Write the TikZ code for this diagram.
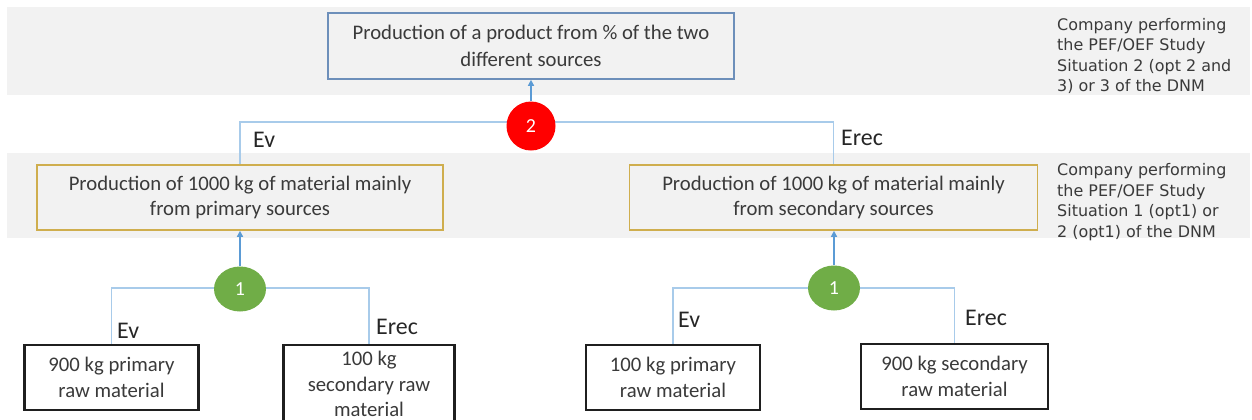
\documentclass[tikz,border=0pt]{standalone}
\usepackage{fontspec}
\setmainfont{Carlito}
\newfontfamily\notefont{DejaVu Sans}
\usetikzlibrary{arrows.meta,shapes.geometric}
\definecolor{bandgray}{HTML}{F2F2F2}
\definecolor{topblue}{HTML}{6D8FBA}
\definecolor{gold}{HTML}{CFAE4E}
\definecolor{lineblue}{HTML}{A8CBEA}
\definecolor{arrblue}{HTML}{5B9BD5}
\definecolor{txtgray}{HTML}{3A3A3A}
\definecolor{redc}{HTML}{FF0000}
\definecolor{greenc}{HTML}{70AD47}
\tikzset{
  band/.style={fill=bandgray,draw=none},
  mainbox/.style={draw=topblue,line width=1.6bp,fill=bandgray,align=center,inner sep=0pt,
    minimum width=406bp,minimum height=66bp,text=txtgray,
    font={\fontsize{20.8}{26.5}\selectfont}},
  goldbox/.style={draw=gold,line width=1.6bp,fill=bandgray,align=center,inner sep=0pt,
    minimum width=406bp,minimum height=65bp,text=txtgray,
    font={\fontsize{20.8}{25.5}\selectfont}},
  rawbox/.style={draw=black!88,line width=2.4bp,fill=white,align=center,inner sep=0pt,
    minimum height=65bp,text=txtgray,
    font={\fontsize{20.8}{25.5}\selectfont}},
  note/.style={align=left,inner sep=0pt,text=txtgray,
    font={\notefont\fontsize{16}{20.5}\selectfont}},
  conn/.style={draw=lineblue,line width=1.2bp},
  arr/.style={draw=arrblue,line width=1.4bp,-{Triangle[length=6bp,width=6bp]}},
  elabel/.style={inner sep=0pt,anchor=west,text=black!85,font={\fontsize{24}{28}\selectfont}},
  redcirc/.style={circle,fill=redc,draw=none,minimum size=49bp,inner sep=0pt,text=white,
    font={\fontsize{20}{24}\selectfont}},
  greenell/.style={ellipse,fill=greenc,draw=none,minimum width=52bp,minimum height=45bp,
    inner sep=0pt,text=white,font={\fontsize{20}{24}\selectfont}}
}
\begin{document}
\begin{tikzpicture}[x=1bp,y=-1bp]
\useasboundingbox (0,0) rectangle (1252,419);
% bands
\fill[band] (7,7) rectangle (1250,95);
\fill[band] (7,153) rectangle (1250,238);
% main nodes
\node[mainbox] (top) at (531,46) {Production of a product from \% of the two\\different sources};
\node[goldbox] (L) at (240,197.5) {Production of 1000 kg of material mainly\\from primary sources};
\node[goldbox,minimum width=408bp] (R) at (833.5,197.5) {Production of 1000 kg of material mainly\\from secondary sources};
% side notes
\node[note,anchor=west] (n1) at (1057,56) {Company performing\\the PEF/OEF Study\\Situation 2 (opt 2 and\\3) or 3 of the DNM};
\node[note,anchor=west] (n2) at (1057,202) {Company performing\\the PEF/OEF Study\\Situation 1 (opt1) or\\2 (opt1) of the DNM};
% raw material boxes
\node[rawbox,minimum width=174bp] (B1) at (111.5,377.5) {900 kg primary\\raw material};
\node[rawbox,minimum width=171bp,minimum height=78bp] (B2) at (369,384) {100 kg\\secondary raw\\material};
\node[rawbox,minimum width=174bp] (B3) at (673,377.5) {100 kg primary\\raw material};
\node[rawbox,minimum width=187bp] (B4) at (954.5,376.5) {900 kg secondary\\raw material};
% top level connectors
\coordinate (jl) at (240,122);
\coordinate (jr) at (833.5,122);
\draw[conn] (L.north) -- (jl) -- (jr) -- (R.north);
\node[redcirc] (C2) at (531,126) {2};
\draw[arr] (C2.north) -- (top.south);
% lower connectors
\path (240,288) coordinate (g1c);
\draw[conn] (B1.north) |- (g1c) -| (B2.north);
\node[greenell] (G1) at (240,289) {1};
\draw[arr] (G1.north) -- (L.south);
\path (833.5,288) coordinate (g2c);
\draw[conn] (B3.north) |- (g2c) -| (B4.north);
\node[greenell] (G2) at (834,288) {1};
\draw[arr] (G2.north) -- (R.south -| G2.north);
% labels
\node[elabel] (ev1) at (253,140) {Ev};
\node[elabel] (er1) at (841,138) {Erec};
\node[elabel] (ev2) at (117,331) {Ev};
\node[elabel] (er2) at (376,327) {Erec};
\node[elabel] (ev3) at (678,320) {Ev};
\node[elabel] (er3) at (965,318) {Erec};
\end{tikzpicture}
\end{document}
